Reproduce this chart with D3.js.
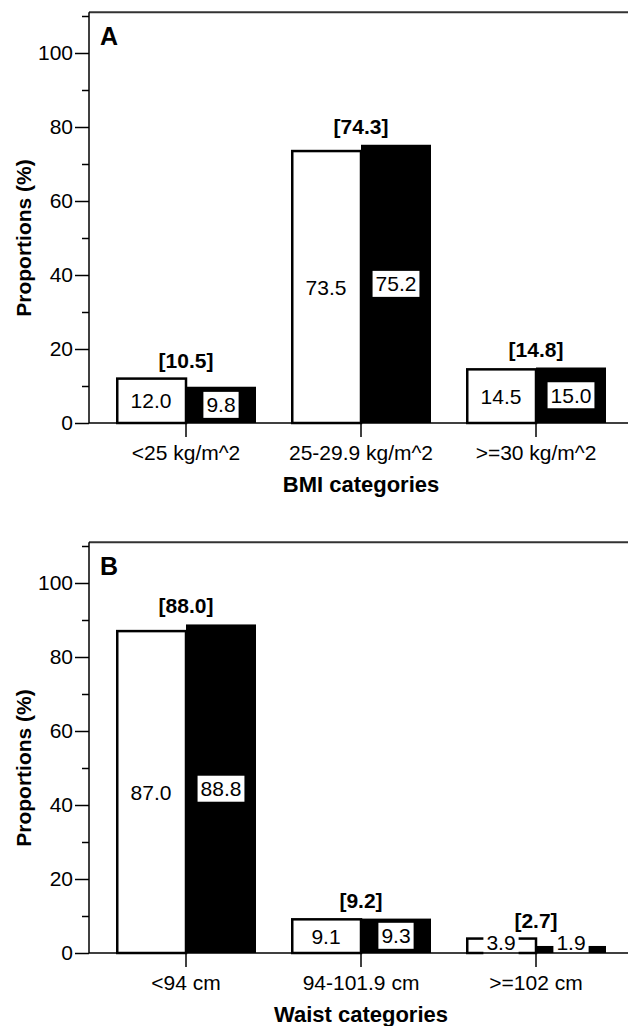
<!DOCTYPE html>
<html>
<head>
<meta charset="utf-8">
<script src="https://cdn.jsdelivr.net/npm/d3@7"></script>
<style>
  body { margin: 0; background: #fff; }
  svg { display: block; }
  text { font-family: "Liberation Sans", Arial, sans-serif; fill: #000; }
</style>
</head>
<body>
<div id="chart"></div>
<script>
// chart values
var bmiCategories = ["<25 kg/m^2", "25-29.9 kg/m^2", ">=30 kg/m^2"];
var bmiWhite = [12.0, 73.5, 14.5];
var bmiBlack = [9.8, 75.2, 15.0];
var bmiTotal = [10.5, 74.3, 14.8];

var waistCategories = ["<94 cm", "94-101.9 cm", ">=102 cm"];
var waistWhite = [87.0, 9.1, 3.9];
var waistBlack = [88.8, 9.3, 1.9];
var waistTotal = [88.0, 9.2, 2.7];

var majorTicks = [0, 20, 40, 60, 80, 100];
var minorTicks = [10, 30, 50, 70, 90, 110];

var width = 628, height = 1026;

var svg = d3.select("#chart").append("svg")
    .attr("width", width)
    .attr("height", height);

var fmt = d3.format(".1f");

drawPanel(0, "A", "BMI categories", bmiCategories, bmiWhite, bmiBlack, bmiTotal);
drawPanel(530, "B", "Waist categories", waistCategories, waistWhite, waistBlack, waistTotal);

function drawPanel(offsetY, letter, title, cats, white, black, total) {
    var g = svg.append("g").attr("transform", "translate(0," + offsetY + ")");
    var axisX = 89;

    var y = d3.scaleLinear().domain([0, 111]).range([423, 12.3]);

    var x = d3.scaleBand()
        .domain(cats)
        .range([98.5, 623.5])
        .paddingInner(0.2)
        .paddingOuter(0.1);

    var sub = d3.scaleBand().domain(["white", "black"]).range([0, x.bandwidth()]);

    var rows = cats.map(function(c, i) {
        return { cat: c, white: white[i], black: black[i], total: total[i] };
    });

    // top frame line
    g.append("line")
        .attr("x1", axisX).attr("x2", width)
        .attr("y1", y(111)).attr("y2", y(111))
        .attr("stroke", "#333").attr("stroke-width", 2);

    // y axis
    var yAxis = g.append("g")
        .attr("transform", "translate(" + axisX + ",0)")
        .call(d3.axisLeft(y).tickValues(majorTicks).tickSize(14).tickPadding(2).tickFormat(d3.format("d")));
    yAxis.select(".domain").remove();
    yAxis.selectAll("line").attr("stroke", "#000").attr("stroke-width", 1.5);
    yAxis.selectAll("text").style("font-size", "21px").attr("fill", "#000");

    g.append("g")
        .attr("transform", "translate(" + axisX + ",0)")
        .call(d3.axisLeft(y).tickValues(minorTicks).tickSize(7).tickFormat(""))
        .call(function(s) { s.select(".domain").remove(); })
        .selectAll("line").attr("stroke", "#000").attr("stroke-width", 1.5);

    g.append("line")
        .attr("x1", axisX).attr("x2", axisX)
        .attr("y1", y(0)).attr("y2", y(111))
        .attr("stroke", "#000").attr("stroke-width", 1.5);

    // bars
    var groups = g.selectAll(".grp").data(rows).enter().append("g")
        .attr("class", "grp")
        .attr("transform", function(d) { return "translate(" + x(d.cat) + ",0)"; });

    groups.append("rect")
        .attr("x", sub("white") + 1.25)
        .attr("y", function(d) { return y(d.white); })
        .attr("width", sub.bandwidth() - 1.25)
        .attr("height", function(d) { return y(0) - y(d.white); })
        .attr("fill", "#fff").attr("stroke", "#000").attr("stroke-width", 2.5);

    groups.append("rect")
        .attr("x", sub("black"))
        .attr("y", function(d) { return y(d.black); })
        .attr("width", sub.bandwidth())
        .attr("height", function(d) { return y(0) - y(d.black); })
        .attr("fill", "#000");

    // x axis baseline and ticks
    g.append("line")
        .attr("x1", axisX).attr("x2", width)
        .attr("y1", y(0)).attr("y2", y(0))
        .attr("stroke", "#000").attr("stroke-width", 1.5);

    var xAxis = g.append("g")
        .attr("transform", "translate(0," + y(0) + ")")
        .call(d3.axisBottom(x).tickSize(14).tickPadding(8));
    xAxis.select(".domain").remove();
    xAxis.selectAll("line").attr("stroke", "#000").attr("stroke-width", 1.5);
    xAxis.selectAll("text").style("font-size", "21px").attr("fill", "#000");

    // value labels inside bars, on white boxes
    ["white", "black"].forEach(function(key) {
        groups.each(function(d) {
            var lg = d3.select(this).append("g");
            var cx = sub(key) + sub.bandwidth() / 2;
            // middle of the bar, but never closer than 11px to the baseline
            var cy = Math.min((y(0) + y(d[key])) / 2, y(0) - 11);
            var t = lg.append("text")
                .attr("x", cx).attr("y", cy)
                .attr("text-anchor", "middle")
                .attr("dy", "0.36em")
                .style("font-size", "21px")
                .text(fmt(d[key]));
            var bb = t.node().getBBox();
            lg.insert("rect", "text")
                .attr("x", bb.x - 3).attr("y", cy - 13)
                .attr("width", bb.width + 6).attr("height", 26)
                .attr("fill", "#fff");
        });
    });

    // overall values in brackets
    groups.append("text")
        .attr("x", x.bandwidth() / 2)
        .attr("y", function(d) { return y(Math.max(d.white, d.black)) - 11; })
        .attr("text-anchor", "middle")
        .style("font-size", "21px").style("font-weight", "bold")
        .text(function(d) { return "[" + fmt(d.total) + "]"; });

    // panel letter
    g.append("text")
        .attr("x", 100).attr("y", 45)
        .style("font-size", "25px").style("font-weight", "bold")
        .text(letter);

    // axis titles
    g.append("text")
        .attr("transform", "translate(31," + y(50) + ") rotate(-90)")
        .attr("text-anchor", "middle")
        .style("font-size", "21px").style("font-weight", "bold")
        .text("Proportions (%)");

    g.append("text")
        .attr("x", x(cats[1]) + x.bandwidth() / 2)
        .attr("y", 492)
        .attr("text-anchor", "middle")
        .style("font-size", "22px").style("font-weight", "bold")
        .text(title);
}
</script>
</body>
</html>
